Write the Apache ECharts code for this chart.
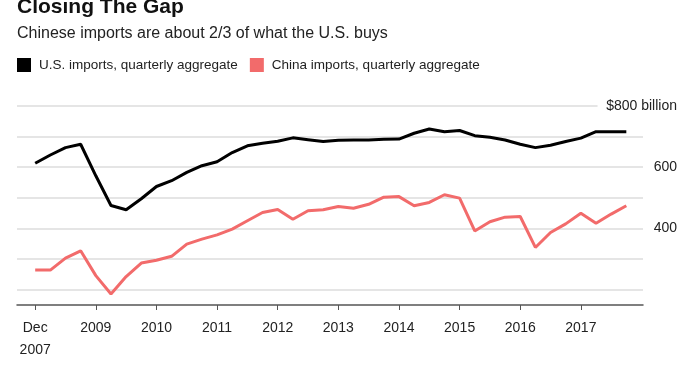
<!DOCTYPE html>
<html>
<head>
<meta charset="utf-8">
<script src="https://cdn.jsdelivr.net/npm/echarts@6/dist/echarts.min.js"></script>
<style>
  html, body { margin: 0; padding: 0; background: #fff; }
  #chart { width: 700px; height: 375px; }
</style>
</head>
<body>
<div id="chart"></div>
<script>
// quarterly, Q4 2007 .. Q3 2017, $ billion
const usImports = [
  613, 640, 664, 675, 572, 475, 461, 497, 537, 556,
  583, 605, 618, 648, 670, 678, 685, 696, 690, 684,
  688, 689, 689, 691, 692, 711, 725, 716, 720, 703,
  698, 689, 675, 664, 672, 684, 695, 716, 716, 716
]
const chinaImports = [
  264, 264, 303, 327, 246, 186, 243, 287, 296, 309,
  349, 365, 379, 398, 425, 452, 462, 430, 458, 461,
  472, 466, 479, 502, 504, 474, 485, 510, 499, 392,
  422, 437, 439, 338, 387, 415, 450, 417, 447, 474
]
const tickIndex = [0, 4, 8, 12, 16, 20, 24, 28, 32, 36]
const tickLabels = ['Dec\n2007', '2009', '2010', '2011', '2012', '2013', '2014', '2015', '2016', '2017']
const yLabels = { 400: '400', 600: '600', 800: '$800 billion' }

const font = "'Liberation Sans', Arial, sans-serif"
const chart = echarts.init(document.getElementById('chart'))

chart.setOption({
  animation: false,
  title: [{
    text: 'Closing The Gap',
    left: 17,
    top: -3,
    padding: 0,
    textStyle: { fontFamily: font, fontSize: 21, fontWeight: 'bold', color: '#111' }
  }, {
    text: 'Chinese imports are about 2/3 of what the U.S. buys',
    left: 17,
    top: 26,
    padding: 0,
    textStyle: { fontFamily: font, fontSize: 16, fontWeight: 'normal', color: '#222' }
  }],
  legend: {
    left: 17,
    top: 58,
    padding: 0,
    icon: 'rect',
    itemWidth: 14,
    itemHeight: 14,
    itemGap: 12,
    textStyle: { fontFamily: font, fontSize: 13.5, color: '#222', padding: [0, 0, 0, 3] },
    data: ['U.S. imports, quarterly aggregate', 'China imports, quarterly aggregate']
  },
  grid: { left: 17, right: 57, top: 106, bottom: 70 },
  xAxis: {
    type: 'value',
    min: -1.2,
    max: 40.1,
    splitLine: { show: false },
    axisLine: { lineStyle: { color: '#555', width: 1.5 } },
    axisTick: { customValues: tickIndex, length: 5, lineStyle: { color: '#555' } },
    axisLabel: {
      customValues: tickIndex,
      formatter: v => tickLabels[tickIndex.indexOf(v)],
      fontFamily: font,
      fontSize: 14,
      color: '#222',
      lineHeight: 22,
      margin: 12
    }
  },
  yAxis: {
    type: 'value',
    position: 'right',
    min: 150,
    max: 800,
    interval: 50,
    axisLine: { show: false },
    axisTick: { show: false },
    splitLine: {
      lineStyle: {
        color: ['transparent', '#dcdcdc', 'transparent', '#dcdcdc', 'transparent', '#dcdcdc',
          'transparent', '#dcdcdc', 'transparent', '#dcdcdc', 'transparent', '#dcdcdc',
          'transparent', 'transparent'],
        width: 1.5
      }
    },
    axisLabel: {
      formatter: v => yLabels[v] || '',
      align: 'right',
      margin: 34,
      fontFamily: font,
      fontSize: 14,
      color: '#222'
    }
  },
  series: [{
    name: 'U.S. imports, quarterly aggregate',
    type: 'line',
    data: usImports.map((v, i) => [i, v]),
    symbol: 'none',
    color: '#000',
    lineStyle: { width: 3, color: '#000' },
    markLine: {
      silent: true,
      symbol: 'none',
      label: { show: false },
      lineStyle: { color: '#dcdcdc', width: 1.5, type: 'solid' },
      data: [[{ coord: [-1.2, 800] }, { coord: [37.1, 800] }]]
    },
    z: 3
  }, {
    name: 'China imports, quarterly aggregate',
    type: 'line',
    data: chinaImports.map((v, i) => [i, v]),
    symbol: 'none',
    color: '#f26b6b',
    lineStyle: { width: 3, color: '#f26b6b' },
    z: 2
  }]
})
</script>
</body>
</html>
